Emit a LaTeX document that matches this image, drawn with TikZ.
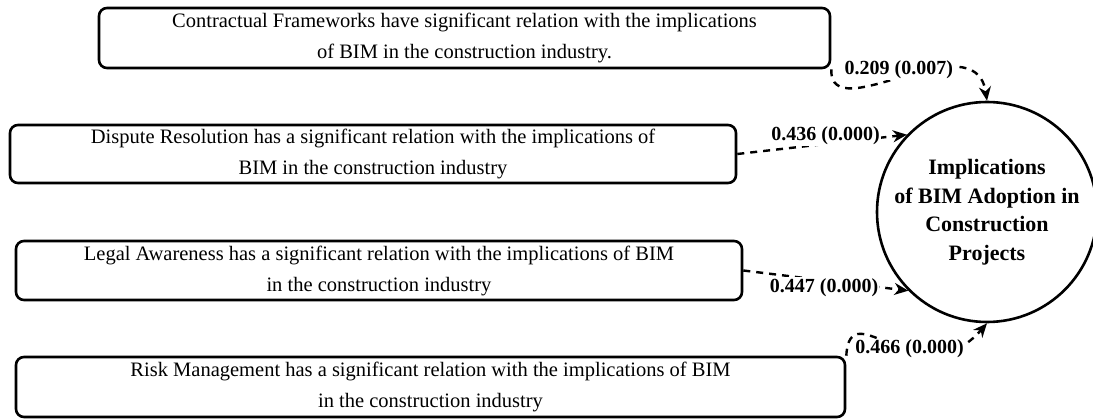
\documentclass[tikz,border=0pt]{standalone}
\usepackage{fontspec}
\setmainfont{Liberation Serif}
\usetikzlibrary{arrows.meta}

\begin{document}
\begin{tikzpicture}[
        x=1pt, y=-1pt,
        box/.style={draw, rounded corners=8pt, line width=2.6pt, inner sep=0pt, align=center, font=\fontsize{20.5}{31}\selectfont},
        target/.style={draw, circle, line width=2.6pt, minimum size=220pt, inner sep=0pt, align=center, font=\bfseries\fontsize{22}{28.5}\selectfont},
        arrow/.style={-{Stealth[length=14pt, width=12pt]}, line width=2.4pt, dash pattern=on 7pt off 6pt},
        weight/.style={fill=white, inner sep=1pt, font=\bfseries\fontsize{20}{20}\selectfont}
    ]
        \useasboundingbox (0,0) rectangle (1093,420);

        \node[target] (impl) at (987,212) {Implications\\of BIM Adoption in\\Construction\\Projects};

        \node[box, minimum width=731pt, minimum height=60pt] (frame) at (464.5,38) {Contractual Frameworks have significant relation with the implications\\of BIM in the construction industry.};
        \node[box, minimum width=726pt, minimum height=58pt] (dispute) at (373,154) {Dispute Resolution has a significant relation with the implications of\\BIM in the construction industry};
        \node[box, minimum width=726pt, minimum height=59pt] (legal) at (379,270.5) {Legal Awareness has a significant relation with the implications of BIM\\in the construction industry};
        \node[box, minimum width=829pt, minimum height=60pt] (risk) at (430.5,387) {Risk Management has a significant relation with the implications of BIM\\in the construction industry};

        \draw[arrow] (frame.south east) .. controls (829,130) and (975,20) .. (impl.north) node[weight, pos=.5, yshift=8pt, xshift=-5pt]{0.209 (0.007)};
        \draw[arrow] (dispute.east) -- (impl.136) node[weight, pos=.52, yshift=8pt]{0.436 (0.000)};
        \draw[arrow] (legal.east) -- (impl.225) node[weight, pos=.49, yshift=-7pt]{0.447 (0.000)};
        \draw[arrow] (risk.north east) .. controls (850,290) and (920,400) .. (impl.south) node[weight, pos=.6]{0.466 (0.000)};
    \end{tikzpicture}
\end{document}
